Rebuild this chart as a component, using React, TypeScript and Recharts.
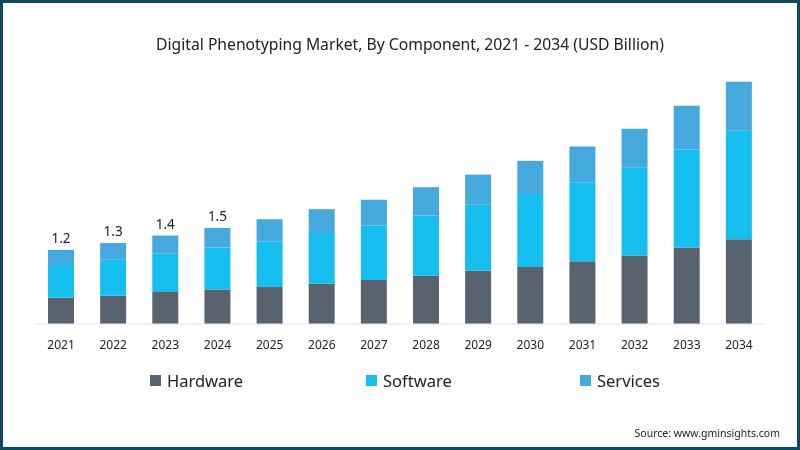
import React from 'react';
import { BarChart, Bar, XAxis, YAxis, LabelList } from 'recharts';

const years = ['2021','2022','2023','2024','2025','2026','2027','2028','2029','2030','2031','2032','2033','2034'];
const hardware = [0.42,0.45,0.51,0.55,0.59,0.64,0.70,0.77,0.85,0.91,1.00,1.09,1.22,1.35];
const software = [0.52,0.58,0.61,0.67,0.73,0.81,0.87,0.96,1.05,1.16,1.26,1.40,1.56,1.73];
const services = [0.24,0.26,0.29,0.31,0.35,0.38,0.41,0.45,0.48,0.53,0.57,0.62,0.70,0.78];
const totalLabels = ['1.2','1.3','1.4','1.5','','','','','','','','','',''];

const seriesNames = ['Hardware','Software','Services'];
const seriesColors = ['#58636f','#16bef0','#46a9de'];

const data = years.map((y, i) => ({
  year: y,
  Hardware: hardware[i],
  Software: software[i],
  Services: services[i],
  label: totalLabels[i],
}));

const FONT = '"Noto Sans", "Open Sans", sans-serif';

const renderTopLabel = (props: any) => {
  const { x, y, width, value } = props;
  if (!value) return null;
  return (
    <text x={x + width / 2} y={y - 7} textAnchor="middle" fontSize={13.5} fill="#222" fontFamily={FONT}>
      {value}
    </text>
  );
};

export default function App() {
  return (
    <div style={{ position: 'fixed', left: 0, top: 0, width: 800, height: 450, background: '#fff', boxSizing: 'border-box', border: '3px solid #0e4a5f', fontFamily: FONT }}>
      <div style={{ position: 'absolute', left: -3, top: -3, width: 800, height: 450 }}>
        <div style={{ position: 'absolute', top: 33, left: 0, width: 820, textAlign: 'center', fontSize: 15.7, color: '#222' }}>
          Digital Phenotyping Market, By Component, 2021 - 2034 (USD Billion)
        </div>
        <BarChart width={800} height={450} data={data} margin={{ top: 73, right: 35, left: 35, bottom: 96 }} barCategoryGap={0}>
          <YAxis hide domain={[0, 4]} />
          <XAxis dataKey="year" height={30} tickLine={false} axisLine={{ stroke: '#e3e6ea', strokeWidth: 1 }} tick={{ fontSize: 12, fill: '#222', fontFamily: FONT }} tickMargin={10} interval={0} />
          <Bar dataKey="Hardware" stackId="a" fill={seriesColors[0]} barSize={26} isAnimationActive={false} />
          <Bar dataKey="Software" stackId="a" fill={seriesColors[1]} barSize={26} isAnimationActive={false} />
          <Bar dataKey="Services" stackId="a" fill={seriesColors[2]} barSize={26} isAnimationActive={false}>
            <LabelList dataKey="label" content={renderTopLabel} />
          </Bar>
        </BarChart>
        <div style={{ position: 'absolute', top: 369, left: 0, width: 800, height: 24 }}>
          {seriesNames.map((n, i) => (
            <div key={n} style={{ position: 'absolute', left: [150, 366, 580][i], top: 0, display: 'flex', alignItems: 'center', fontSize: 16.5, color: '#222' }}>
              <span style={{ display: 'inline-block', width: 11, height: 11, background: seriesColors[i], marginRight: 6 }} />
              {n}
            </div>
          ))}
        </div>
        <div style={{ position: 'absolute', top: 426, right: 20, fontSize: 10.5, color: '#222' }}>
          Source: www.gminsights.com
        </div>
      </div>
    </div>
  );
}
